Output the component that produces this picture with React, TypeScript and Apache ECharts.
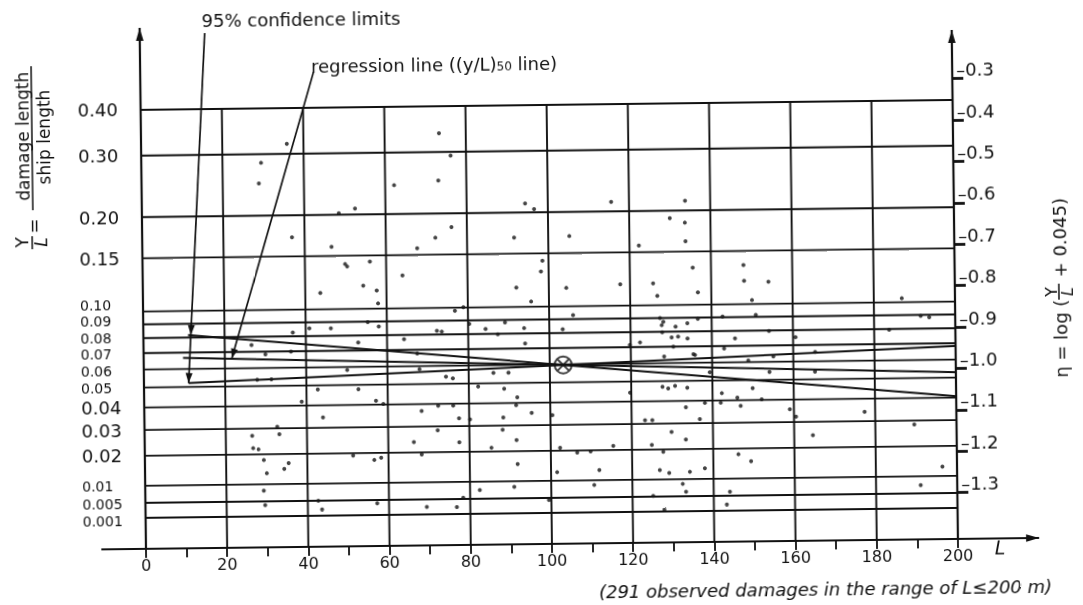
import React, { useEffect, useRef } from "react";
import * as echarts from "echarts";

const INK = "#111111";
const FONT = "'DejaVu Sans', 'Liberation Sans', sans-serif";

// Y/L grid values (left scale) and their labels
const gridRatios = [0.4, 0.3, 0.2, 0.15, 0.1, 0.09, 0.08, 0.07, 0.06, 0.05, 0.04, 0.03, 0.02, 0.01, 0.005, 0.001];
const gridLabels = ["0.40", "0.30", "0.20", "0.15", "0.10", "0.09", "0.08", "0.07", "0.06", "0.05", "0.04", "0.03", "0.02", "0.01", "0.005", "0.001"];
// crowded labels: smaller size and a small shift (px, + = up) so they stay apart
const gridLabelSize = [18, 18, 18, 18, 14, 14, 14, 14, 14, 14, 18, 18, 18, 14, 14, 14];
const gridLabelShift = [0, 0, 0, 0, 6.6, 3, 0.3, -1.2, -1.3, -0.3, 0, 0, 0, 0, -0.5, -3];
// eta scale (right axis)
const etaTicks = [-0.3, -0.4, -0.5, -0.6, -0.7, -0.8, -0.9, -1.0, -1.1, -1.2, -1.3];
const etaTickLabels = ["–0.3", "–0.4", "–0.5", "–0.6", "–0.7", "–0.8", "–0.9", "–1.0", "–1.1", "–1.2", "–1.3"];
// L axis
const lengthLabelStep = 20;
const verticalLines = [20, 40, 60, 80, 100, 120, 140, 160, 180];

// observed damages: [L (m), eta]
const damagePoints: [number, number][] = [
  [35.9, -0.438], [29.5, -0.483], [28.9, -0.533], [62.2, -0.541], [52.5, -0.596], [48.5, -0.607], [36.9, -0.664], [46.6, -0.688],
  [49.9, -0.73], [50.4, -0.736], [56.0, -0.725], [64.0, -0.759], [43.7, -0.799], [54.3, -0.783], [57.6, -0.795], [57.9, -0.826],
  [73.4, -0.417], [76.2, -0.471], [73.1, -0.531], [94.4, -0.589], [96.6, -0.603], [115.6, -0.588], [76.2, -0.644], [72.2, -0.669],
  [67.7, -0.694], [91.6, -0.671], [105.2, -0.669], [130.0, -0.629], [133.7, -0.64], [122.3, -0.694], [98.5, -0.728], [98.1, -0.754],
  [92.0, -0.792], [104.3, -0.794], [117.6, -0.787], [125.7, -0.786], [126.7, -0.816], [95.6, -0.826], [76.8, -0.846], [78.9, -0.838],
  [133.8, -0.587], [133.8, -0.685], [135.5, -0.749], [148.0, -0.744], [148.1, -0.782], [154.1, -0.785], [136.7, -0.809], [150.0, -0.829],
  [186.9, -0.829],
  [36.8, -0.894], [46.2, -0.885], [55.3, -0.871], [58.0, -0.882], [40.9, -0.884], [64.2, -0.913], [52.9, -0.92], [26.6, -0.923],
  [30.0, -0.946], [36.3, -0.94], [50.1, -0.986], [27.9, -1.007], [31.4, -1.006], [42.8, -1.032], [52.8, -1.033], [38.8, -1.061],
  [57.1, -1.061], [58.9, -1.069], [44.0, -1.1], [32.7, -1.121], [26.5, -1.142], [33.2, -1.139], [26.7, -1.172], [28.0, -1.175],
  [29.3, -1.201], [35.4, -1.209], [34.3, -1.223], [30.0, -1.233], [51.3, -1.193], [56.5, -1.204], [58.2, -1.199], [66.3, -1.162],
  [29.2, -1.275], [29.5, -1.31], [42.6, -1.301], [43.5, -1.322], [57.1, -1.309],
  [80.3, -0.878], [89.1, -0.876], [84.3, -0.891], [87.3, -0.904], [93.8, -0.89], [72.3, -0.894], [73.5, -0.896], [103.3, -0.894],
  [105.9, -0.86], [127.3, -0.87], [127.7, -0.887], [128.1, -0.879], [131.1, -0.891], [130.1, -0.917], [131.7, -0.915], [127.8, -0.904],
  [94.0, -0.927], [122.3, -0.928], [119.8, -0.934], [130.5, -0.939], [67.4, -0.948], [128.2, -0.963], [67.9, -0.986], [74.4, -1.005],
  [76.1, -1.009], [86.1, -0.997], [89.8, -0.997], [82.3, -1.03], [88.7, -1.036], [91.9, -1.057], [91.6, -1.076], [119.7, -1.049],
  [127.7, -1.036], [129.1, -1.04], [130.8, -1.034], [68.3, -1.087], [72.4, -1.075], [76.1, -1.075], [77.5, -1.106], [80.2, -1.109],
  [88.4, -1.105], [95.4, -1.095], [100.5, -1.101], [123.3, -1.116], [125.1, -1.116], [129.8, -1.145], [72.2, -1.134], [88.2, -1.135],
  [77.5, -1.164], [91.6, -1.16], [85.4, -1.178], [102.3, -1.18], [115.4, -1.177], [124.9, -1.176], [68.2, -1.192], [106.5, -1.192],
  [109.8, -1.19], [127.7, -1.193], [91.8, -1.218], [101.5, -1.239], [111.9, -1.235], [126.8, -1.237], [129.1, -1.244], [82.4, -1.28],
  [90.9, -1.273], [110.6, -1.271], [132.4, -1.271], [99.4, -1.306], [69.3, -1.319], [76.7, -1.32], [78.3, -1.298], [125.1, -1.299],
  [127.8, -1.332],
  [134.0, -0.883], [136.6, -0.873], [142.7, -0.868], [150.9, -0.865], [191.5, -0.872], [193.6, -0.876], [134.0, -0.92], [145.7, -0.921],
  [154.1, -0.904], [160.6, -0.92], [183.7, -0.905], [143.0, -0.945], [135.4, -0.958], [135.8, -0.96], [155.1, -0.966], [148.9, -0.975],
  [165.4, -0.956], [139.4, -1.002], [154.1, -1.003], [165.3, -1.004], [133.8, -1.039], [149.9, -1.042], [142.3, -1.053], [146.1, -1.064],
  [152.1, -1.069], [138.1, -1.076], [142.0, -1.076], [133.4, -1.086], [146.9, -1.084], [159.0, -1.094], [160.5, -1.112], [177.4, -1.102],
  [136.8, -1.115], [189.6, -1.134], [133.3, -1.164], [164.6, -1.157], [146.2, -1.201], [149.3, -1.218], [134.2, -1.242], [137.9, -1.234],
  [133.2, -1.29], [144.0, -1.291], [143.2, -1.322], [196.4, -1.237], [191.0, -1.281],
];

const regressionLine: [number, number][] = [[9.7, -0.952], [200, -1.009]];
const upperLimitLine: [number, number][] = [[11, -0.897], [200, -1.067]];
const lowerLimitLine: [number, number][] = [[11, -1.013], [200, -0.946]];
const meanPoint: [number, number] = [103.3, -0.98];

// leader lines of the annotations (data units)
const confLeader: [number, number][] = [[16, -0.168], [11, -1.013]];
const confArrowTips: [number, number][] = [[11.7, -0.897], [11, -1.013]];
const regLeader: [number, number][] = [[42.7, -0.265], [21.7, -0.955]];

const ETA_MIN = -1.412;
const ETA_MAX = -0.1536;
const RIGHT_AXIS_TOP = -0.1825;
const X_AXIS_START = -11;
const X_AXIS_END = 220;
const GRID_LINE_START = -3;
const GRID_LEFT = 143;
const GRID_TOP = 23;
const GRID_HEIGHT = 521;
const LABEL_LEFT = 80;

const eta = (r: number) => Math.log10(r + 0.045);

export default function App() {
  const ref = useRef<HTMLDivElement>(null);

  useEffect(() => {
    if (!ref.current) return;
    const chart = echarts.init(ref.current, undefined, { renderer: "svg" });

    const series: any[] = [];
    gridRatios.forEach((r) => {
      series.push({
        type: "line",
        data: [[GRID_LINE_START, eta(r)], [200, eta(r)]],
        symbol: "none",
        clip: false,
        silent: true,
        lineStyle: { color: INK, width: 1.9 },
        z: 2,
      });
    });
    verticalLines.forEach((L) => {
      series.push({
        type: "line",
        data: [[L, eta(0.4)], [L, ETA_MIN]],
        symbol: "none",
        clip: false,
        silent: true,
        lineStyle: { color: INK, width: 1.9 },
        z: 2,
      });
    });
    [regressionLine, upperLimitLine, lowerLimitLine].forEach((d) => {
      series.push({
        type: "line",
        data: d,
        symbol: "none",
        clip: false,
        silent: true,
        lineStyle: { color: INK, width: 2 },
        z: 3,
      });
    });
    series.push({
      type: "scatter",
      data: damagePoints,
      symbol: "circle",
      symbolSize: 4,
      itemStyle: { color: "#151515" },
      silent: true,
      z: 4,
    });
    series.push({
      type: "scatter",
      data: [meanPoint],
      symbol: "path://M100,50A50,50,0,1,1,0,50A50,50,0,1,1,100,50ZM18,18L82,82M82,18L18,82",
      symbolSize: 17,
      itemStyle: { color: "rgba(0,0,0,0)", borderColor: INK, borderWidth: 2 },
      silent: true,
      z: 5,
    });

    const nearestIndex = (arr: number[], v: number) => {
      let best = 0;
      let bd = Infinity;
      arr.forEach((t, i) => {
        const d = Math.abs(t - v);
        if (d < bd) { bd = d; best = i; }
      });
      return best;
    };

    const option: any = {
      animation: false,
      backgroundColor: "#ffffff",
      grid: { left: GRID_LEFT, top: GRID_TOP, width: 812, height: GRID_HEIGHT },
      xAxis: {
        type: "value",
        min: 0,
        max: 200,
        interval: 10,
        axisLine: { show: false },
        axisTick: { show: true, length: 9, lineStyle: { color: INK, width: 1.8 } },
        axisLabel: {
          margin: 8,
          color: INK,
          fontFamily: FONT,
          fontSize: 16,
          formatter: (v: number) => (v % lengthLabelStep === 0 ? String(v) : ""),
        },
        splitLine: { show: false },
      },
      yAxis: [
        {
          type: "value",
          min: ETA_MIN,
          max: ETA_MAX,
          position: "left",
          axisLine: { show: false },
          axisTick: { show: false },
          splitLine: { show: false },
          axisLabel: { show: false },
        },
        {
          type: "value",
          min: ETA_MIN,
          max: ETA_MAX,
          position: "right",
          axisLine: { show: false },
          splitLine: { show: false },
          axisTick: {
            show: true,
            customValues: etaTicks,
            length: 11,
            lineStyle: { color: INK, width: 2.8 },
          },
          axisLabel: {
            customValues: etaTicks,
            showMinLabel: true,
            showMaxLabel: true,
            margin: 4,
            verticalAlign: "bottom",
            color: INK,
            fontFamily: FONT,
            fontSize: 18,
            formatter: (v: number) => etaTickLabels[nearestIndex(etaTicks, v)],
          },
        },
      ],
      series,
    };
    chart.setOption(option);

    const px = (pt: number[]) => chart.convertToPixel({ xAxisIndex: 0, yAxisIndex: 0 }, pt) as number[];
    const seg = (a: number[], b: number[], w = 2) => ({
      type: "line",
      silent: true,
      shape: { x1: a[0], y1: a[1], x2: b[0], y2: b[1] },
      style: { stroke: INK, lineWidth: w },
    });
    const arrowHead = (from: number[], tip: number[], len = 12, hw = 3.5) => {
      const dx = tip[0] - from[0];
      const dy = tip[1] - from[1];
      const d = Math.hypot(dx, dy) || 1;
      const ux = dx / d;
      const uy = dy / d;
      const bx = tip[0] - ux * len;
      const by = tip[1] - uy * len;
      return {
        type: "polygon",
        silent: true,
        shape: { points: [tip, [bx - uy * hw, by + ux * hw], [bx + uy * hw, by - ux * hw]] },
        style: { fill: INK },
      };
    };
    const txt = (text: string, x: number, y: number, o: any = {}) => ({
      type: "text",
      silent: true,
      x,
      y,
      rotation: o.rotation || 0,
      style: {
        text,
        fill: INK,
        fontFamily: FONT,
        fontSize: o.size || 18,
        fontStyle: o.italic ? "italic" : "normal",
        align: o.align || "center",
        verticalAlign: "middle",
        rich: o.rich,
      },
    });
    const R = Math.PI / 2;

    const xa0 = px([X_AXIS_START, ETA_MIN]);
    const xa1 = px([X_AXIS_END, ETA_MIN]);
    const la0 = px([0, ETA_MIN]);
    const la1 = px([0, ETA_MAX]);
    const ra0 = px([200, ETA_MIN]);
    const ra1 = px([200, RIGHT_AXIS_TOP]);
    const c0 = px(confLeader[0]);
    const c1 = px(confLeader[1]);
    const t1 = px(confArrowTips[0]);
    const t2 = px(confArrowTips[1]);
    const r0 = px(regLeader[0]);
    const r1 = px(regLeader[1]);

    // left scale labels (Y/L), placed at their grid lines
    const leftLabels = gridRatios.map((r, i) => {
      const p = px([0, eta(r)]);
      return txt(gridLabels[i], LABEL_LEFT, p[1] - gridLabelShift[i], { align: "left", size: gridLabelSize[i] });
    });

    const graphic: any[] = [
      seg(xa0, xa1, 2.2),
      arrowHead(xa0, xa1, 13, 3.8),
      seg(la0, la1, 2.2),
      arrowHead(la0, la1, 13, 3.8),
      seg(ra0, ra1, 2.2),
      arrowHead(ra0, ra1, 13, 3.8),
      seg(c0, c1, 1.7),
      arrowHead(c0, t1, 10, 3.5),
      arrowHead(c0, t2, 10, 3.5),
      seg(r0, r1, 1.7),
      arrowHead(r0, r1, 10, 3.5),
      ...leftLabels,
      txt("95% confidence limits", 205, 16, { align: "left" }),
      txt("{a|regression line ((y/L)}{s|50}{a| line)}", 314, 61, {
        align: "left",
        rich: {
          a: { fontFamily: FONT, fontSize: 18, lineHeight: 22, fill: INK, verticalAlign: "bottom" },
          s: { fontFamily: FONT, fontSize: 12, lineHeight: 12, fill: INK, verticalAlign: "bottom" },
        },
      }),
      // left title
      txt("damage length", 25, 130, { rotation: R, size: 17 }),
      seg([34, 60], [34, 204], 1.5),
      txt("ship length", 46, 131, { rotation: R, size: 17 }),
      txt("=", 34, 220, { rotation: R, size: 18 }),
      txt("Y", 23, 236, { rotation: R, size: 17 }),
      seg([33, 230], [33, 243], 1.5),
      txt("L", 42, 236, { rotation: R, size: 17, italic: true }),
      // right title
      txt("η = log (", 1060, 345, { rotation: R, size: 18 }),
      txt("Y", 1051, 298, { rotation: R, size: 16 }),
      seg([1059, 290], [1059, 306], 1.5),
      txt("L", 1067, 298, { rotation: R, size: 16, italic: true }),
      txt("+ 0.045)", 1060, 244, { rotation: R, size: 18 }),
      // axis name and caption
      txt("L", 997, 553, { size: 19, italic: true }),
      txt("(291 observed damages in the range of L≤200 m)", 822, 592, { size: 18, italic: true }),
    ];
    chart.setOption({ graphic });

    return () => chart.dispose();
  }, []);

  return (
    <div
      ref={ref}
      style={{
        position: "fixed",
        left: 0,
        top: 0,
        width: 1083,
        height: 605,
        background: "#ffffff",
        transform: "rotate(-0.7deg)",
        transformOrigin: "50% 50%",
      }}
    />
  );
}
